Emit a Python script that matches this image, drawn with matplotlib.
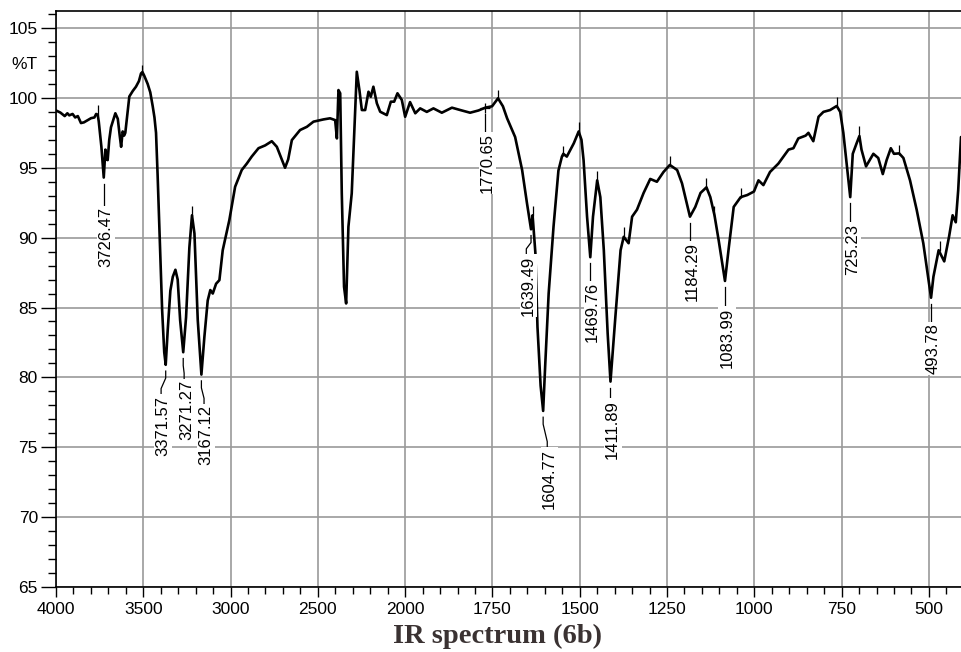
import numpy as np
import matplotlib
matplotlib.use("Agg")
import matplotlib.pyplot as plt
import matplotlib.transforms as mtransforms
from matplotlib.ticker import FixedLocator, FixedFormatter, NullFormatter

# ---- spectrum (wavenumber in cm-1, transmittance in %T) ----
wavenumber = [
    4000, 3975, 3950, 3935, 3924, 3905, 3890, 3875, 3857, 3840, 3820, 3799,
    3780, 3770, 3761, 3755, 3740, 3726.47, 3717, 3712, 3704, 3695, 3685, 3660,
    3646, 3635, 3627, 3618, 3610, 3603, 3580, 3560, 3542, 3525, 3513, 3505,
    3495, 3485, 3475, 3460, 3446, 3436,
    3427, 3418, 3408, 3392, 3380, 3371.57, 3360, 3345, 3331, 3316, 3303, 3289, 3271.27, 3255,
    3236, 3221, 3207, 3188, 3167.12, 3150, 3131, 3116, 3102, 3083, 3064, 3045,
    3007, 2974, 2936, 2907, 2879, 2840, 2802, 2764, 2735, 2710, 2688, 2670,
    2649, 2602, 2563, 2525, 2468, 2430, 2401, 2391, 2382, 2372, 2363, 2350,
    2338, 2325, 2306, 2286, 2277, 2262, 2248, 2229, 2210, 2197, 2182, 2162,
    2143, 2105, 2082, 2063, 2044, 2019, 2000, 1986, 1971, 1957, 1938, 1919,
    1895, 1866, 1842, 1814, 1790, 1770.65, 1751, 1734, 1720, 1708, 1685, 1665, 1651,
    1639.49, 1635, 1627, 1621, 1612, 1604.77, 1599, 1589, 1575, 1561, 1551, 1547,
    1537, 1517, 1503, 1495, 1489, 1479, 1469.76, 1462, 1450, 1441, 1431, 1420,
    1411.89, 1398, 1383, 1374, 1360, 1350, 1336, 1317, 1298, 1279, 1260, 1242,
    1221, 1207, 1184.29, 1169, 1154, 1137, 1126, 1114, 1102, 1083.99, 1073,
    1059, 1039, 1020, 1001, 988, 974, 955, 931, 902, 888, 874, 853, 845, 831,
    816, 802, 783, 764, 754, 745, 725.23, 718, 707, 699, 693, 680, 659, 645,
    632, 621, 609, 600, 585, 573, 554, 535, 516, 493.78, 487, 472, 456, 442,
    432, 423, 416, 408,
]
transmittance = [
    99.1, 98.95, 98.7, 98.9, 98.75, 98.85, 98.6, 98.7, 98.2, 98.25, 98.4, 98.55,
    98.6, 98.85, 98.8, 98.3, 96.5, 94.3, 96.3, 95.6, 95.55, 97.0, 97.9, 98.9,
    98.5, 97.3, 96.5, 97.6, 97.3, 97.5, 100.1, 100.5, 100.8, 101.2, 101.75, 101.85,
    101.6, 101.3, 101.0, 100.4, 99.4, 98.6,
    97.5, 94.5, 90.8, 84.8, 81.8, 80.9, 83.4, 86.2, 87.2, 87.7, 87.0, 84.1, 81.8, 84.3,
    89.3, 91.6, 90.3, 84.1, 80.2, 82.9, 85.5, 86.25, 86.0, 86.7, 86.96, 89.1,
    91.26, 93.64, 94.84, 95.3, 95.8, 96.4, 96.6, 96.9, 96.5, 95.7, 95.0, 95.6,
    96.98, 97.7, 97.93, 98.3, 98.46, 98.54, 98.41, 97.1, 100.56, 100.33, 93.17, 86.48,
    85.29, 90.78, 93.17, 99.13, 101.87, 100.56, 99.13, 99.13, 100.44, 100.08, 100.8, 99.61,
    99.01, 98.77, 99.73, 99.73, 100.33, 99.85, 98.65, 99.7, 98.9, 99.25, 99.0, 99.25,
    98.94, 99.3, 99.13, 98.94, 99.1, 99.3, 99.4, 99.97, 99.4, 98.54, 97.2, 94.84, 92.45,
    90.6, 91.6, 88.9, 83.6, 79.4, 77.6, 80.8, 86.0, 90.8, 94.8, 95.8, 96.0,
    95.8, 96.75, 97.6, 97.0, 95.55, 91.5, 88.6, 91.5, 94.1, 92.9, 89.1, 83.15,
    79.7, 84.3, 89.1, 90.06, 89.6, 91.5, 92.0, 93.2, 94.2, 94.0, 94.7, 95.2,
    94.84, 93.88, 91.5, 92.2, 93.2, 93.6, 92.9, 91.6, 89.8, 86.9, 89.3,
    92.2, 92.9, 93.05, 93.3, 94.1, 93.76, 94.7, 95.3, 96.3, 96.4, 97.1, 97.3, 97.5, 96.9,
    98.65, 99.0, 99.13, 99.42, 99.0, 97.5, 92.9, 96.0, 96.75, 97.27, 96.3, 95.1, 96.0, 95.7,
    94.55, 95.55, 96.4, 96.0, 96.03, 95.7, 94.1, 92.0, 89.6, 85.7, 87.2, 89.1, 88.3, 90.1,
    91.6, 91.1, 93.4, 97.2,
]

# ---- picked peaks: label text, peak position, label anchor ----
peak_text = ["3726.47", "3371.57", "3271.27", "3167.12", "1770.65", "1639.49",
             "1604.77", "1469.76", "1411.89", "1184.29", "1083.99", "725.23",
             "493.78"]
peak_wn = [3726.47, 3371.57, 3271.27, 3167.12, 1770.65, 1639.49,
           1604.77, 1469.76, 1411.89, 1184.29, 1083.99, 725.23, 493.78]
peak_T = [94.3, 80.9, 81.8, 80.2, 99.3, 90.6, 77.6, 88.6, 79.7, 91.5, 86.9,
          92.9, 85.7]
label_wn = [3726.47, 3398, 3266, 3152, 1770.65, 1653, 1593, 1469.76, 1411.89,
            1184.29, 1083.99, 725.23, 493.78]
label_top = [92.2, 78.7, 79.8, 78.0, 97.5, 88.7, 74.9, 86.8, 78.4, 89.7, 85.0,
             91.0, 83.9]

# small marks on picked maxima
maxima_wn = [3761, 3505, 3221, 1734, 1635, 1547, 1503, 1450, 1374, 1242, 1137,
             1114, 1039, 764, 699, 585, 469]
maxima_T = [99.1, 102.0, 91.9, 100.2, 91.9, 96.2, 97.9, 94.4, 90.4, 95.5, 93.9,
            91.9, 93.2, 99.7, 97.6, 96.3, 89.4]

x_ticks = [4000, 3500, 3000, 2500, 2000, 1750, 1500, 1250, 1000, 750, 500]
y_ticks = [65, 70, 75, 80, 85, 90, 95, 100, 105]


# the region above 2000 cm-1 is drawn at half scale
def forward(x):
    x = np.asarray(x, dtype=float)
    return np.where(x > 2000, 2000 + (x - 2000) / 2.0, x)


def inverse(u):
    u = np.asarray(u, dtype=float)
    return np.where(u > 2000, 2000 + (u - 2000) * 2.0, u)


plt.rcParams["font.family"] = ["Liberation Sans", "DejaVu Sans"]

W, H = 961, 652
fig = plt.figure(figsize=(W / 100, H / 100), dpi=100)
ax = fig.add_axes([56 / W, 65 / H, 905 / W, (587 - 10.7) / H])
ax.set_xscale("function", functions=(forward, inverse))
ax.set_xlim(4000, 408)
ax.set_ylim(65, 106.24)

# ticks
x_minor = [v for v in range(3900, 2000, -100) if v not in x_ticks] + \
          [v for v in range(1950, 400, -50) if v not in x_ticks]
ax.xaxis.set_major_locator(FixedLocator(x_ticks))
ax.xaxis.set_major_formatter(FixedFormatter([str(v) for v in x_ticks]))
ax.xaxis.set_minor_locator(FixedLocator(x_minor))
ax.xaxis.set_minor_formatter(NullFormatter())
ax.yaxis.set_major_locator(FixedLocator(y_ticks))
ax.yaxis.set_minor_locator(FixedLocator(list(range(66, 107))))
ax.tick_params(axis="x", which="major", length=7.5, width=1.0, labelsize=12.5,
               pad=3.5, direction="out", color="black")
ax.tick_params(axis="x", which="minor", length=5, width=1.0, direction="out")
ax.tick_params(axis="y", which="major", length=11, width=1.0, labelsize=12.5,
               pad=2.0, direction="out")
ax.tick_params(axis="y", which="minor", length=6, width=1.0, direction="out")

ax.grid(True, which="major", color="#9a9a9a", linewidth=1.2)
ax.set_axisbelow(True)
for side in ("left", "top", "bottom"):
    ax.spines[side].set_color("black")
    ax.spines[side].set_linewidth(1.2)
ax.spines["right"].set_visible(False)

# %T unit label sits among the y tick labels
trans = mtransforms.blended_transform_factory(ax.transAxes, ax.transData)
ax.text(-19 / 905, 102.4, "%T", transform=trans, ha="right", va="center",
        fontsize=12.5)

# spectrum
ax.plot(wavenumber, transmittance, color="black", linewidth=1.9,
        solid_joinstyle="round", solid_capstyle="round", zorder=3)
ax.plot(maxima_wn, maxima_T, linestyle="none", marker="|", markersize=7,
        markeredgewidth=0.9, color="black", zorder=3)
ax.plot([peak_wn[4]], [peak_T[4]], linestyle="none", marker="+",
        markersize=7, markeredgewidth=0.9, color="black", zorder=4)

# peak labels with leader lines; rotated digits sit slightly left of the
# box centre, so the text is nudged right to line up with its leader
text_trans = mtransforms.offset_copy(ax.transData, fig=fig, x=2.2, y=0,
                                     units="dots")
for txt, pw, pt, lw_, lt in zip(peak_text, peak_wn, peak_T, label_wn,
                                label_top):
    start = pt - 0.45
    if abs(lw_ - pw) > 1:
        xs = [pw, pw, lw_, lw_]
        ys = [start, start - 0.5, lt + 0.5, lt]
    else:
        xs = [pw, pw]
        ys = [start, lt]
    ax.plot(xs, ys, color="black", linewidth=0.9, zorder=4)
    ax.text(lw_, lt, txt, rotation=90, ha="center", va="top", fontsize=12,
            zorder=5, transform=text_trans,
            bbox=dict(facecolor="white", edgecolor="none", pad=1.0))

fig.text(0.518, 0.024, "IR spectrum (6b)", ha="center", va="center",
         fontsize=20.5, fontweight="bold", family=["Liberation Serif"],
         color="#3a3232")

fig.savefig("out.png", dpi=100)
